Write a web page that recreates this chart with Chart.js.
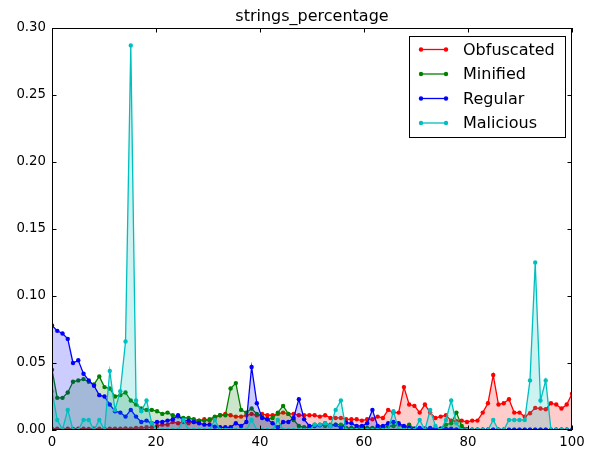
<!DOCTYPE html>
<html><head><meta charset="utf-8">
<script src="https://cdn.jsdelivr.net/npm/chart.js@4.4.0/dist/chart.umd.min.js"></script>
<style>html,body{margin:0;padding:0;background:#fff;} canvas{display:block;}</style>
</head><body>
<canvas id="c" width="594" height="451"></canvas>
<script>
const chartTitle = 'strings_percentage';
const seriesNames = ['Obfuscated', 'Minified', 'Regular', 'Malicious'];

const obfuscated = [
  0.001,0.001,0.0008,0.001,0.0008,0.001,0.001,0.0008,0.001,0.001,0.0008,0.001,0.001,0.001,0.0012,
  0.001,0.0015,0.0015,0.002,0.002,0.003,0.004,0.004,0.006,0.005,0.006,0.005,0.006,0.007,0.008,
  0.007,0.009,0.011,0.012,0.011,0.010,0.010,0.011,0.012,0.011,0.012,0.011,0.011,0.012,0.013,
  0.012,0.012,0.011,0.011,0.011,0.011,0.010,0.011,0.009,0.009,0.009,0.008,0.008,0.008,0.007,
  0.008,0.008,0.010,0.009,0.015,0.013,0.013,0.032,0.019,0.018,0.013,0.019,0.013,0.009,0.010,
  0.011,0.007,0.0065,0.007,0.006,0.007,0.007,0.013,0.020,0.041,0.019,0.020,0.023,0.013,0.013,
  0.010,0.0125,0.0165,0.016,0.0155,0.020,0.019,0.016,0.019,0.027
];
const minified = [
  0.045,0.024,0.024,0.028,0.036,0.037,0.038,0.036,0.034,0.040,0.032,0.031,0.025,0.026,0.028,
  0.022,0.019,0.016,0.015,0.015,0.014,0.012,0.013,0.011,0.010,0.009,0.009,0.008,0.007,0.007,
  0.008,0.010,0.011,0.011,0.031,0.035,0.015,0.013,0.016,0.012,0.010,0.008,0.009,0.013,0.018,
  0.012,0.0075,0.003,0.002,0.002,0.004,0.004,0.003,0.004,0.004,0.004,0.0015,0.0015,0.0015,0.0015,
  0.0015,0.0015,0.0015,0.0015,0.003,0.003,0.004,0.002,0.004,0.001,0.001,0.001,0.001,0.001,0.001,
  0.004,0.005,0.013,0.003,0.0005,0.0003,0.0003,0.0003,0.0003,0.0003,0.0003,0.0003,0.0003,0.0003,0.0003,
  0.0003,0.0003,0.0003,0.0003,0.0003,0.0003,0.0003,0.0003,0.0003,0.0003
];
const regular = [
  0.078,0.074,0.072,0.068,0.050,0.052,0.042,0.037,0.033,0.026,0.025,0.019,0.014,0.013,0.010,
  0.015,0.010,0.006,0.007,0.005,0.006,0.006,0.007,0.008,0.011,0.007,0.007,0.006,0.005,0.004,
  0.004,0.0025,0.002,0.002,0.002,0.005,0.003,0.006,0.047,0.020,0.009,0.008,0.005,0.002,0.006,
  0.006,0.009,0.023,0.008,0.003,0.003,0.0035,0.005,0.003,0.004,0.0015,0.0055,0.005,0.003,0.003,
  0.005,0.015,0.003,0.003,0.005,0.006,0.005,0.003,0.0015,0.001,0.0015,0.001,0.0015,0.001,0.001,
  0.0008,0.001,0.0005,0.0005,0.0005,0.0003,0.0003,0.0003,0.0003,0.0003,0.0003,0.0003,0.0003,0.0003,0.0003,
  0.0003,0.0003,0.0003,0.0003,0.0003,0.0003,0.0003,0.0003,0.0003,0.0003
];
const malicious = [
  0.029,0.0075,0.0005,0.015,0,0,0.0075,0.0075,0,0.0075,0,0.044,0.015,0.029,0.066,
  0.287,0.022,0.014,0.022,0.005,0,0,0,0,0,0.0075,0,0,0,0,
  0,0.0075,0,0,0,0,0,0,0.0075,0,0,0,0,0.0075,0,
  0,0,0,0,0,0.004,0.004,0.005,0.003,0.015,0.022,0,0,0,0,
  0,0,0,0,0,0.014,0,0,0,0,0.0075,0,0.015,0.003,0,
  0.0075,0.022,0.005,0,0,0,0,0,0,0.0075,0,0,0.0075,0.0075,0.0075,
  0.0075,0.037,0.125,0.022,0.037,0,0,0,0,0
];
const xTicks = [0, 20, 40, 60, 80, 100];
const yTicks = [0, 0.05, 0.10, 0.15, 0.20, 0.25, 0.30];

const N = obfuscated.length;
const xValues = Array.from({length: N}, (_, j) => j * 100 / (N - 1));

const lineColors = ['#ff0000', '#008000', '#0000ff', '#00bfbf'];
const fillColors = ['rgba(255,0,0,0.2)', 'rgba(0,128,0,0.2)', 'rgba(0,0,255,0.2)', 'rgba(0,191,191,0.2)'];
const allSeries = [obfuscated, minified, regular, malicious];

const datasets = allSeries.map((s, i) => ({
  label: seriesNames[i],
  data: s.map((v, j) => ({x: xValues[j], y: v})),
  borderColor: lineColors[i],
  backgroundColor: fillColors[i],
  fill: 'origin',
  borderWidth: 1.3,
  pointRadius: 2.2,
  pointBackgroundColor: lineColors[i],
  pointBorderColor: lineColors[i],
  pointBorderWidth: 0,
  pointHoverRadius: 0,
  tension: 0,
  order: 4 - i
}));

const tickFont = {family: 'DejaVu Sans', size: 13.3};

const decor = {
  id: 'decor',
  afterDraw(chart) {
    const ctx = chart.ctx;
    const a = chart.chartArea;
    const xs = chart.scales.x, ys = chart.scales.y;
    ctx.save();
    ctx.strokeStyle = '#000';
    ctx.lineWidth = 1;
    // ticks (inward, all sides)
    const tl = 4.5;
    ctx.beginPath();
    xTicks.forEach(v => {
      const px = Math.round(xs.getPixelForValue(v)) + 0.5;
      ctx.moveTo(px, a.bottom); ctx.lineTo(px, a.bottom - tl);
      ctx.moveTo(px, a.top); ctx.lineTo(px, a.top + tl);
    });
    yTicks.forEach(v => {
      const py = Math.round(ys.getPixelForValue(v)) + 0.5;
      ctx.moveTo(a.left, py); ctx.lineTo(a.left + tl, py);
      ctx.moveTo(a.right, py); ctx.lineTo(a.right - tl, py);
    });
    ctx.stroke();
    // frame
    ctx.strokeRect(Math.round(a.left) + 0.5, Math.round(a.top) + 0.5,
                   Math.round(a.right - a.left) - 1, Math.round(a.bottom - a.top) - 1);
    // title
    ctx.fillStyle = '#000';
    ctx.font = '16px "DejaVu Sans"';
    ctx.textAlign = 'center';
    ctx.textBaseline = 'alphabetic';
    ctx.fillText(chartTitle, (a.left + a.right) / 2, 21);
    // legend
    const bx = 409.5, by = 36.5, bw = 156, bh = 101;
    ctx.fillStyle = '#fff';
    ctx.fillRect(bx, by, bw, bh);
    ctx.strokeStyle = '#000';
    ctx.strokeRect(bx, by, bw, bh);
    ctx.font = '16px "DejaVu Sans"';
    ctx.textAlign = 'left';
    ctx.textBaseline = 'middle';
    chart.data.datasets.forEach((d, i) => {
      const ry = 49.5 + i * 24.5;
      ctx.strokeStyle = d.borderColor;
      ctx.lineWidth = 1.3;
      ctx.beginPath();
      ctx.moveTo(421, ry); ctx.lineTo(446, ry);
      ctx.stroke();
      ctx.fillStyle = d.borderColor;
      [421, 446].forEach(px => {
        ctx.beginPath(); ctx.arc(px, ry, 2.2, 0, Math.PI * 2); ctx.fill();
      });
      ctx.fillStyle = '#000';
      ctx.fillText(d.label, 463, ry + 1);
    });
    ctx.restore();
  }
};

new Chart(document.getElementById('c'), {
  type: 'line',
  data: {datasets},
  plugins: [decor],
  options: {
    responsive: false,
    animation: false,
    devicePixelRatio: 1,
    events: [],
    layout: {padding: {left: 0, right: 22, top: 28, bottom: 0}},
    plugins: {legend: {display: false}, title: {display: false}, tooltip: {enabled: false}},
    scales: {
      x: {
        type: 'linear', min: 0, max: 100,
        afterBuildTicks: s => { s.ticks = xTicks.map(v => ({value: v})); },
        grid: {display: false, drawTicks: false},
        border: {display: false},
        ticks: {font: tickFont, color: '#000', padding: 5, maxRotation: 0, autoSkip: false,
                callback: v => String(v)},
        afterFit: s => { s.height = 21; }
      },
      y: {
        type: 'linear', min: 0, max: 0.30,
        afterBuildTicks: s => { s.ticks = yTicks.map(v => ({value: v})); },
        grid: {display: false, drawTicks: false},
        border: {display: false},
        ticks: {font: tickFont, color: '#000', padding: 6, autoSkip: false,
                callback: v => v.toFixed(2)},
        afterFit: s => { s.width = 52; }
      }
    }
  }
});
</script>
</body></html>
